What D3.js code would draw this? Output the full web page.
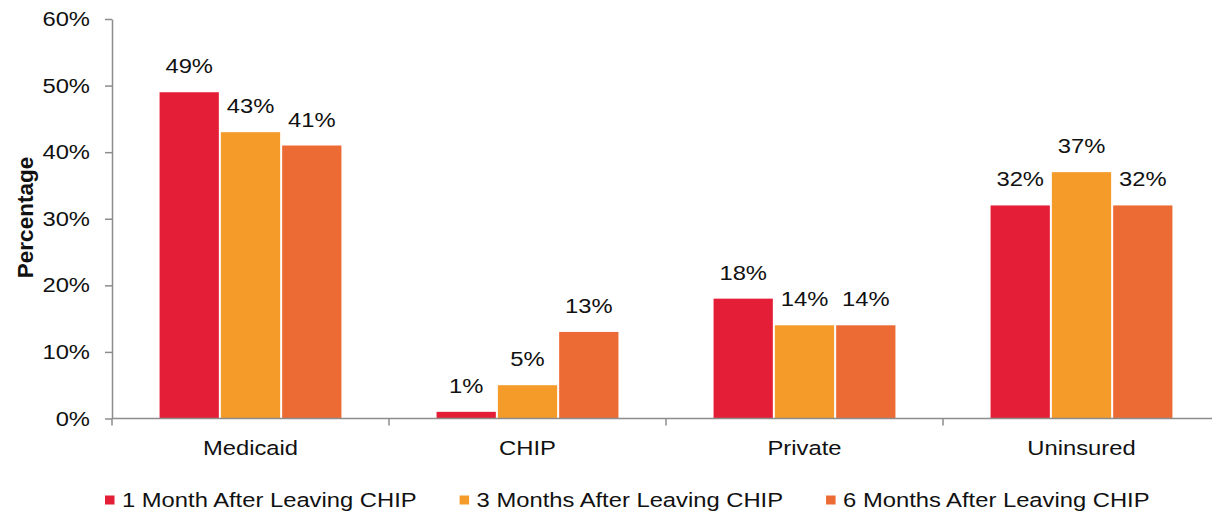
<!DOCTYPE html>
<html>
<head>
<meta charset="utf-8">
<script src="https://cdn.jsdelivr.net/npm/d3@7"></script>
<style>
  body { margin: 0; background: #fff; }
  svg { display: block; font-family: Arial, "Liberation Sans", sans-serif; }
</style>
</head>
<body>
<svg id="chart" width="1212" height="514"></svg>
<script>
var categories = ["Medicaid", "CHIP", "Private", "Uninsured"];
var seriesNames = ["1 Month After Leaving CHIP", "3 Months After Leaving CHIP", "6 Months After Leaving CHIP"];
var oneMonth = [49, 1, 18, 32];
var threeMonths = [43, 5, 14, 37];
var sixMonths = [41, 13, 14, 32];
var yTicks = [0, 10, 20, 30, 40, 50, 60];
var colors = ["#E51E37", "#F49B2A", "#EC6A34"];

var seriesValues = [oneMonth, threeMonths, sixMonths];
var svg = d3.select("svg#chart");
var stretch = 1.16;     // text in the picture is widened horizontally
var fontSize = 20.5;

var x0 = d3.scaleBand()
    .domain(categories)
    .range([112, 1220]);

var x1 = d3.scaleBand()
    .domain(seriesNames)
    .range([0, x0.bandwidth()])
    .paddingInner(0.033)
    .paddingOuter(0.776);

var y = d3.scaleLinear()
    .domain([0, 60])
    .range([418.5, 19]);

// Bars
var groups = svg.append("g").selectAll("g")
    .data(categories)
    .join("g")
    .attr("transform", (d) => "translate(" + x0(d) + ",0)");

groups.selectAll("rect")
    .data((d, i) => seriesNames.map((s, k) => ({ s: s, v: seriesValues[k][i], k: k })))
    .join("rect")
    .attr("x", (d) => x1(d.s))
    .attr("y", (d) => y(d.v))
    .attr("width", x1.bandwidth())
    .attr("height", (d) => y(0) - y(d.v))
    .attr("fill", (d) => colors[d.k]);

// Value labels
groups.selectAll("text")
    .data((d, i) => seriesNames.map((s, k) => ({ s: s, v: seriesValues[k][i], k: k })))
    .join("text")
    .attr("transform", (d) => "translate(" + (x1(d.s) + x1.bandwidth() / 2) + "," + (y(d.v) - 19) + ") scale(" + stretch + ",1)")
    .attr("text-anchor", "middle")
    .attr("font-size", fontSize)
    .attr("fill", "#111")
    .text((d) => d.v + "%");

// Y axis
var yAxis = svg.append("g")
    .attr("transform", "translate(112,0)")
    .call(d3.axisLeft(y).tickValues(yTicks).tickSize(7).tickSizeOuter(0).tickFormat((d) => d + "%"));
yAxis.select(".domain").attr("stroke", "#8c8c8c").attr("stroke-width", 1.5);
yAxis.selectAll(".tick line").attr("stroke", "#8c8c8c").attr("stroke-width", 1.5);
yAxis.selectAll(".tick text")
    .attr("x", null)
    .attr("transform", "translate(-22,0) scale(" + stretch + ",1)")
    .attr("font-size", fontSize)
    .attr("fill", "#111");
yAxis.attr("font-family", null);

// X axis
var xAxis = svg.append("g")
    .attr("transform", "translate(0," + y(0) + ")");
xAxis.append("line")
    .attr("x1", 112).attr("x2", 1220)
    .attr("stroke", "#8c8c8c").attr("stroke-width", 1.5);
xAxis.selectAll("line.tick")
    .data(categories)
    .join("line")
    .attr("class", "tick")
    .attr("x1", (d) => x0(d)).attr("x2", (d) => x0(d))
    .attr("y1", 0).attr("y2", 7)
    .attr("stroke", "#8c8c8c").attr("stroke-width", 1.5);
xAxis.selectAll("text")
    .data(categories)
    .join("text")
    .attr("transform", (d) => "translate(" + (x0(d) + x0.bandwidth() / 2) + ",36.5) scale(" + stretch + ",1)")
    .attr("text-anchor", "middle")
    .attr("font-size", fontSize)
    .attr("fill", "#111")
    .text((d) => d);

// Y axis title
svg.append("text")
    .attr("transform", "translate(33,217.5) rotate(-90)")
    .attr("text-anchor", "middle")
    .attr("font-size", 22.5)
    .attr("font-weight", "bold")
    .attr("fill", "#111")
    .text("Percentage");

// Legend
var legend = svg.append("g").attr("transform", "translate(0,506.5)");
var lx = 105;
seriesNames.forEach(function(name, k) {
    legend.append("rect")
        .attr("x", lx).attr("y", -11)
        .attr("width", 9.5).attr("height", 9)
        .attr("fill", colors[k]);
    var t = legend.append("text")
        .attr("transform", "translate(" + (lx + 17) + ",0) scale(" + stretch + ",1)")
        .attr("font-size", fontSize)
        .attr("fill", "#111")
        .text(name);
    lx = lx + 17 + t.node().getComputedTextLength() * stretch + 43;
});
</script>
</body>
</html>
